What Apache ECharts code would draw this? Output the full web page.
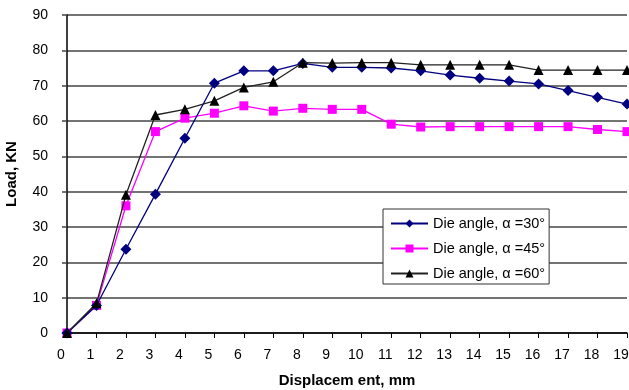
<!DOCTYPE html>
<html>
<head>
<meta charset="utf-8">
<script src="https://cdn.jsdelivr.net/npm/echarts@6/dist/echarts.min.js"></script>
<style>
  html, body {margin: 0; padding: 0; background: #fff;}
  #chart {width: 629px; height: 390px;}
</style>
</head>
<body>
<div id="chart"></div>
<script>
  // displacement, mm
  const xs = [0, 1, 2, 3, 4, 5, 6, 7, 8, 9, 10, 11, 12, 13, 14, 15, 16, 17, 18, 19];
  // load, KN
  const angle30 = [0, 7.8, 23.7, 39.3, 55.1, 70.7, 74.2, 74.2, 76.3, 75.2, 75.2, 75.0, 74.2, 73.0, 72.1, 71.3, 70.5, 68.6, 66.7, 64.8];
  const angle45 = [0, 7.8, 36.0, 57.0, 60.8, 62.2, 64.3, 62.8, 63.6, 63.3, 63.3, 59.1, 58.3, 58.4, 58.4, 58.4, 58.4, 58.4, 57.6, 57.0];
  const angle60 = [0, 8.4, 39.1, 61.7, 63.3, 65.7, 69.5, 71.1, 76.5, 76.4, 76.5, 76.5, 75.9, 75.9, 75.9, 75.9, 74.4, 74.4, 74.4, 74.4];
  const names = ['Die angle, α =30°', 'Die angle, α =45°', 'Die angle, α =60°'];

  const font = 'Liberation Sans, Arial, sans-serif';
  const pairs = arr => xs.map((x, i) => [x, arr[i]]);

  const myChart = echarts.init(document.getElementById('chart'));
  myChart.setOption({
    animation: false,
    backgroundColor: '#fff',
    grid: {left: 67, right: 2, top: 15, bottom: 57, outerBoundsMode: 'none'},
    legend: {
      orient: 'vertical',
      left: 383,
      top: 209,
      padding: [7, 4, 3, 7],
      itemGap: 10,
      itemWidth: 37,
      itemHeight: 10,
      backgroundColor: '#fff',
      borderColor: '#333',
      borderWidth: 1,
      textStyle: {fontFamily: font, fontSize: 14.5, color: '#000'},
      data: names
    },
    xAxis: {
      type: 'value',
      min: 0,
      max: 19,
      interval: 1,
      name: 'Displacem ent, mm',
      nameLocation: 'middle',
      nameGap: 40,
      nameTextStyle: {fontFamily: font, fontSize: 15, fontWeight: 'bold', color: '#000'},
      axisLine: {lineStyle: {color: '#000', width: 1.5}},
      axisTick: {show: true, length: 5, lineStyle: {color: '#000'}},
      axisLabel: {fontFamily: font, fontSize: 14, color: '#000', margin: 15, padding: [0, 12, 0, 0]},
      splitLine: {show: false}
    },
    yAxis: {
      type: 'value',
      min: 0,
      max: 90,
      interval: 10,
      name: 'Load, KN',
      nameLocation: 'middle',
      nameGap: 48,
      nameTextStyle: {fontFamily: font, fontSize: 15, fontWeight: 'bold', color: '#000'},
      axisLine: {show: true, lineStyle: {color: '#000', width: 1.5}},
      axisTick: {show: true, length: 5, lineStyle: {color: '#444', width: 1.5}},
      axisLabel: {fontFamily: font, fontSize: 14, color: '#000', margin: 19},
      splitLine: {lineStyle: {color: '#444', width: 1.5}}
    },
    series: [
      {
        name: names[0],
        type: 'line',
        data: pairs(angle30),
        symbol: 'diamond',
        symbolSize: 11,
        color: '#000080',
        lineStyle: {width: 1.3, color: '#000080'},
        z: 3
      },
      {
        name: names[1],
        type: 'line',
        data: pairs(angle45),
        symbol: 'rect',
        symbolSize: 9,
        color: '#ff00ff',
        lineStyle: {width: 1.3, color: '#ff00ff'},
        z: 2
      },
      {
        name: names[2],
        type: 'line',
        data: pairs(angle60),
        symbol: 'triangle',
        symbolSize: 10,
        color: '#000',
        lineStyle: {width: 1.3, color: '#222'},
        z: 4
      }
    ]
  });
</script>
</body>
</html>
